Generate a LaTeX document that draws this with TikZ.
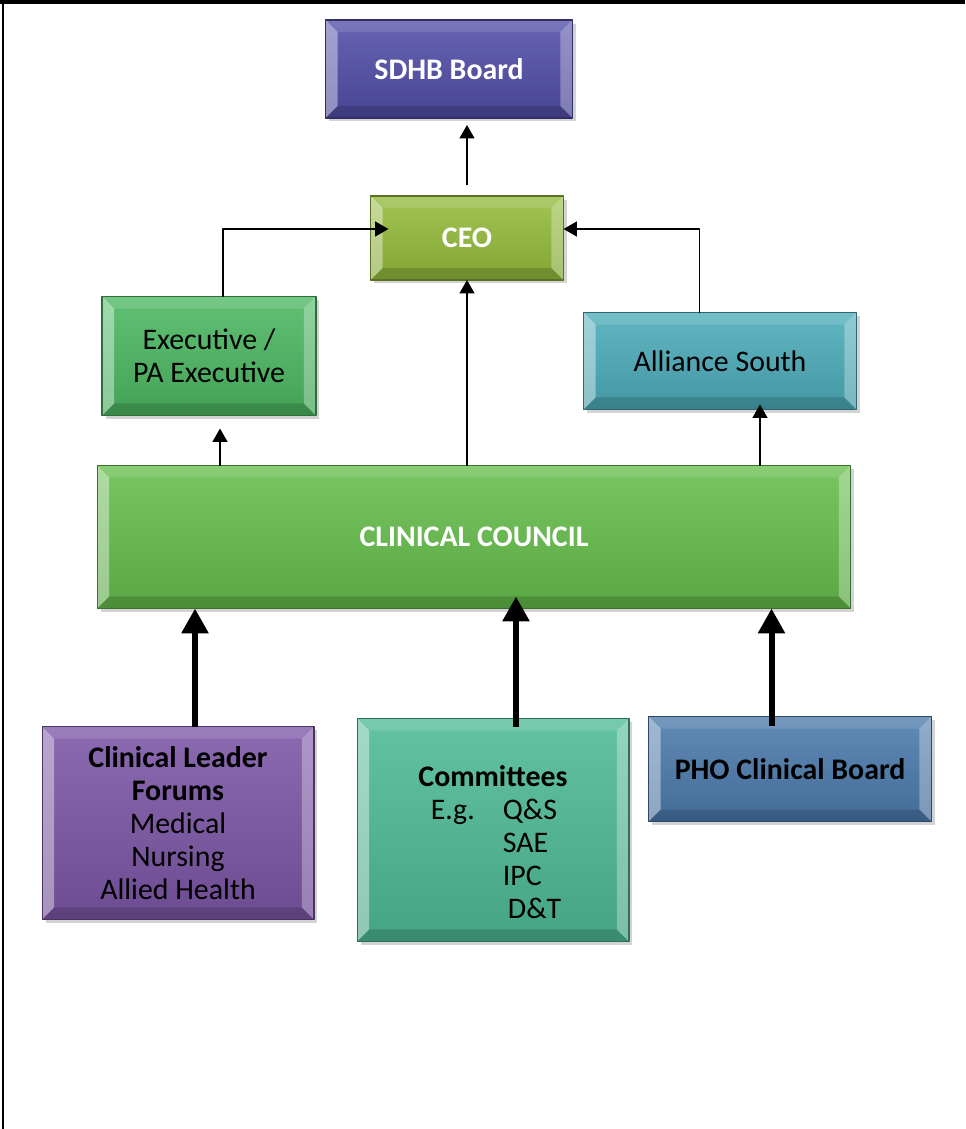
\documentclass[tikz,border=0pt]{standalone}
\usepackage{fontspec}
\setmainfont{Carlito}
\usetikzlibrary{arrows.meta,shadows,calc}
\begin{document}
\begin{tikzpicture}[x=0.02cm,y=-0.02cm, line join=round,
		font=\fontsize{17}{18.8}\selectfont,
		orgbox/.style={rectangle, inner sep=0pt, outer sep=0pt, align=center,
			draw=#1!60!black, line width=0.6pt,
			top color=#1!88!white, bottom color=#1!88!black,
			drop shadow={shadow xshift=0.07cm, shadow yshift=-0.07cm, opacity=0.35},
			path picture={
				\def\bw{0.24cm}
				\fill[white,opacity=0.4] (path picture bounding box.north west)--([shift={(\bw,-\bw)}]path picture bounding box.north west)--([shift={(\bw,\bw)}]path picture bounding box.south west)--(path picture bounding box.south west)--cycle;
				\fill[white,opacity=0.3] (path picture bounding box.north east)--([shift={(-\bw,-\bw)}]path picture bounding box.north east)--([shift={(-\bw,\bw)}]path picture bounding box.south east)--(path picture bounding box.south east)--cycle;
				\fill[white,opacity=0.12] (path picture bounding box.north west)--([shift={(\bw,-\bw)}]path picture bounding box.north west)--([shift={(-\bw,-\bw)}]path picture bounding box.north east)--(path picture bounding box.north east)--cycle;
				\fill[black,opacity=0.15] (path picture bounding box.south west)--([shift={(\bw,\bw)}]path picture bounding box.south west)--([shift={(-\bw,\bw)}]path picture bounding box.south east)--(path picture bounding box.south east)--cycle;
			}},
		title/.style={text=white, font=\fontsize{17}{18.8}\selectfont\bfseries},
		thinarrow/.style={line width=0.9pt, -{Triangle[length=0.27cm,width=0.3cm]}},
		thickarrow/.style={line width=3.4pt, -{Triangle[length=0.5cm,width=0.52cm]}}]
	\useasboundingbox (0,0) rectangle (965,1129);
	\draw[line width=2pt] (0,2)--(965,2);
	\draw[line width=1.5pt] (3,0)--(3,1129);
	\definecolor{sdhbcol}{RGB}{82,78,168}
	\definecolor{ceocol}{RGB}{148,188,60}
	\definecolor{execol}{RGB}{76,184,98}
	\definecolor{allcol}{RGB}{76,172,186}
	\definecolor{cccol}{RGB}{102,190,76}
	\definecolor{forcol}{RGB}{124,86,166}
	\definecolor{comcol}{RGB}{78,186,150}
	\definecolor{phocol}{RGB}{76,122,172}
	
	\node[orgbox=sdhbcol, minimum width=4.94cm, minimum height=1.96cm, title] (sdhb) at (449,69) {SDHB Board};
	\node[orgbox=ceocol, minimum width=3.86cm, minimum height=1.68cm, title] (ceo) at (467,238) {CEO};
	\node[orgbox=execol, minimum width=4.28cm, minimum height=2.38cm] (exec) at (209,356) {Executive /\\PA Executive};
	\node[orgbox=allcol, minimum width=5.46cm, minimum height=1.94cm] (alliance) at (720,361) {Alliance South};
	\node[orgbox=cccol, minimum width=15.08cm, minimum height=2.86cm, title] (council) at (474,537) {CLINICAL COUNCIL};
	\node[orgbox=forcol, minimum width=5.44cm, minimum height=3.86cm] (forums) at (178,823)
		{\textbf{Clinical Leader}\\\textbf{Forums}\\Medical\\Nursing\\Allied Health};
	\node[orgbox=comcol, minimum width=5.44cm, minimum height=4.46cm] (committees) at (493,830)
		{\begin{tabular}{@{\hspace{7pt}}l@{\hspace{16pt}}l@{}}
			\multicolumn{2}{@{}c@{}}{\rule{0pt}{31pt}\textbf{Committees}}\\
			E.g. & Q\&S\\
			& SAE\\
			& IPC\\
			& \,D\&T
		\end{tabular}};
	\node[orgbox=phocol, minimum width=5.66cm, minimum height=2.1cm, font=\fontsize{17}{18.8}\selectfont\bfseries] (pho) at (790,769) {PHO Clinical Board};
	
	\draw[thinarrow, shorten <=0.22cm, shorten >=0.14cm] (ceo.north)--(ceo.north |- sdhb.south);
	\draw[thinarrow] ([xshift=0.28cm]exec.north) |- ([shift={(0.36cm,0.18cm)}]ceo.west);
	\draw[thinarrow] ([xshift=-0.41cm]alliance.north) |- ([yshift=0.18cm]ceo.east);
	\draw[thinarrow] (ceo.south |- council.north)--(ceo.south);
	\draw[thinarrow, shorten >=0.26cm] ([xshift=0.22cm]exec.south |- council.north)--([xshift=0.22cm]exec.south);
	\draw[thinarrow, shorten >=-0.1cm] ([xshift=0.8cm]alliance.south |- council.north)--([xshift=0.8cm]alliance.south);
	
	\draw[thickarrow] ([xshift=0.34cm]forums.north)--([xshift=0.34cm]forums.north |- council.south);
	\draw[thickarrow, shorten <=-0.16cm, shorten >=-0.24cm] ([xshift=0.46cm]committees.north)--([xshift=0.46cm]committees.north |- council.south);
	\draw[thickarrow, shorten <=-0.18cm] ([xshift=-0.37cm]pho.north)--([xshift=-0.37cm]pho.north |- council.south);
\end{tikzpicture}
\end{document}
